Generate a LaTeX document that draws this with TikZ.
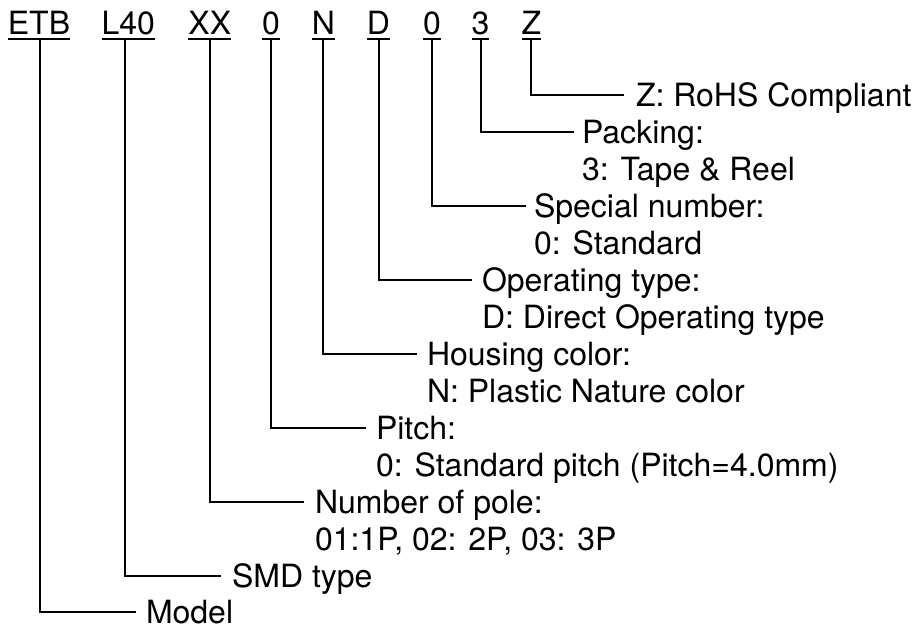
\documentclass[tikz,border=0pt]{standalone}
\usepackage{fontspec}
\setmainfont{TeX Gyre Heros}
\begin{document}
\begin{tikzpicture}[x=1pt,y=-1pt,line width=2pt,
  every node/.style={font=\fontsize{32}{37}\selectfont, inner sep=0pt, outer sep=0pt},
  code/.style={anchor=base, text height=21pt, text depth=5pt},
  desc/.style={anchor=base west, text height=23pt, text depth=0pt},
  link/.style={line width=2pt}]
\useasboundingbox (0,0) rectangle (917,624);
% code letters
\node[code] (etb) at (39,34) {ETB};
\node[code] (l40) at (128.3,34) {L40};
\node[code] (xx) at (209.8,34) {XX};
\node[code] (p0) at (271,34) {0};
\node[code] (n) at (323.3,34) {N};
\node[code] (d) at (378.5,34) {D};
\node[code] (s0) at (432,34) {0};
\node[code] (pk) at (480.5,34) {3};
\node[code] (z) at (531.3,34) {Z};
\foreach \c in {etb,l40,xx,p0,n,d,s0,pk,z}
  \draw[link] (\c.south west) -- (\c.south east);
% descriptions
\node[desc] (zd) at (636,106.5) {Z: RoHS Compliant};
\node[desc] (pk1) at (582,143.5) {Packing:};
\node[desc] (pk2) at (582,180.5) {3: Tape \& Reel};
\node[desc] (sp1) at (534,217.5) {Special number:};
\node[desc] (sp2) at (534,254.5) {0: Standard};
\node[desc] (op1) at (482,291.5) {Operating type:};
\node[desc] (op2) at (482,328.5) {D: Direct Operating type};
\node[desc] (ho1) at (427,365.5) {Housing color:};
\node[desc] (ho2) at (427,402.5) {N: Plastic Nature color};
\node[desc] (pi1) at (376,439.5) {Pitch:};
\node[desc] (pi2) at (376,476.5) {0: Standard pitch (Pitch=4.0mm)};
\node[desc] (no1) at (315,513.5) {Number of pole:};
\node[desc] (no2) at (315,550.5) {01:1P, 02: 2P, 03: 3P};
\node[desc] (smd) at (232,587.5) {SMD type};
\node[desc] (mod) at (146,623.5) {Model};
% connectors
\draw[link] (z.south) |- ([xshift=-12pt]zd.west);
\draw[link] (pk.south) |- ([xshift=-8pt]pk1.west);
\draw[link] (s0.south) |- ([xshift=-8pt]sp1.west);
\draw[link] (d.south) |- ([xshift=-10pt]op1.west);
\draw[link] (n.south) |- ([xshift=-10pt]ho1.west);
\draw[link] (p0.south) |- ([xshift=-10pt]pi1.west);
\draw[link] (xx.south) |- ([xshift=-11pt]no1.west);
\draw[link] ([xshift=-3.3pt]l40.south) |- ([xshift=-11pt]smd.west);
\draw[link] ([xshift=1pt]etb.south) |- ([xshift=-10pt]mod.west);
\end{tikzpicture}
\end{document}
